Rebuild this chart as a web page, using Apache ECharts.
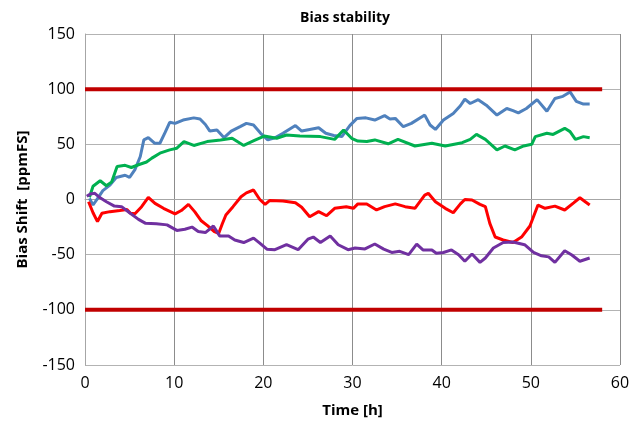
<!DOCTYPE html>
<html>
<head>
<meta charset="utf-8">
<script src="https://cdn.jsdelivr.net/npm/echarts@6/dist/echarts.min.js"></script>
<style>html,body{margin:0;padding:0;background:#fff}#c{width:644px;height:427px}</style>
</head>
<body>
<div id="c"></div>
<script>
var xTicks = [0, 10, 20, 30, 40, 50, 60];
var yTicks = [-150, -100, -50, 0, 50, 100, 150];
var upperLimit = [[0, 100], [58, 100]];
var lowerLimit = [[0, -100], [58, -100]];
var blue = [[0.5,1],[0.9,-5],[1.5,2],[2.0,8],[2.8,13],[3.5,20],[4.5,22],[5.0,20],[5.6,27],[6.2,39],[6.6,54],[7.1,56],[7.8,51],[8.4,51],[9.0,61],[9.5,70],[10.1,69],[11.0,72],[12.2,74],[12.9,73],[13.5,68],[14.0,62],[14.8,63],[15.6,56],[16.4,62],[17.4,66],[18.1,69],[18.9,67.5],[19.7,60],[20.5,54],[21.3,56],[22.2,60],[23.6,67],[24.3,62],[25.2,63.5],[26.2,65],[27.0,60],[27.9,58],[28.8,57],[29.7,67],[30.5,73.5],[31.5,74],[32.5,72],[33.6,76],[34.2,73],[34.8,73.5],[35.7,66],[36.6,69],[38.1,76.5],[38.7,67.5],[39.3,63.5],[40.2,72],[41.3,78],[42.1,85],[42.6,91],[43.2,87],[44.1,90.5],[45.0,85.5],[46.2,76.5],[47.3,82.5],[48.0,80.5],[48.6,78.5],[49.5,82.5],[50.7,90.5],[51.8,80],[52.7,91.5],[53.6,93.5],[54.4,97.5],[55.1,89],[55.9,86.5],[56.6,86.5]];
var green = [[0.5,2],[0.9,12],[1.7,17],[2.4,12.5],[3.0,16],[3.6,30],[4.5,31],[5.2,29],[6.0,31.5],[6.9,34],[7.5,37.5],[8.4,42],[9.5,45],[10.3,46.5],[11.1,52.5],[12.2,49],[13.7,52.5],[15.2,54],[16.5,55.5],[17.8,49],[19.0,53.5],[20.1,57.5],[21.5,55.5],[22.6,58.5],[24.1,57.5],[26.4,57],[28.0,54.5],[29.0,63],[29.9,55.5],[30.6,53],[31.6,52.5],[32.5,54],[34.0,50.5],[35.1,54.5],[37.0,48.5],[38.9,51],[40.4,48.5],[42.3,51.5],[43.2,54.5],[43.9,59],[44.9,54.5],[46.2,45],[47.1,48.5],[48.2,45],[49.2,48.5],[50.1,50],[50.5,57],[51.8,60],[52.5,59],[53.8,64.5],[54.4,61.5],[55.0,54.5],[55.9,57],[56.6,56]];
var red = [[0.4,-2],[0.9,-12],[1.4,-20],[1.9,-12.5],[2.8,-11],[3.9,-10],[4.7,-9],[5.1,-12.5],[5.6,-13],[6.35,-6.5],[7.1,2],[7.85,-3.5],[8.8,-8],[10.1,-13],[10.8,-10],[11.6,-4.4],[12.3,-11],[13.0,-19],[13.7,-23.5],[14.5,-29],[15.0,-30.6],[15.4,-22],[15.8,-14],[16.6,-6.5],[17.5,2.5],[18.1,6],[18.9,8.6],[19.6,0],[20.2,-4.4],[20.7,-1],[22.2,-1.4],[23.6,-3],[24.3,-7],[25.2,-15.6],[26.2,-11],[27.1,-14.7],[28.0,-8],[29.3,-6.5],[30.1,-8],[30.6,-4],[31.6,-4],[32.7,-9.5],[33.6,-6.5],[34.8,-4],[35.9,-6.5],[37.0,-8],[38.1,4],[38.5,5.6],[39.3,-2],[40.4,-8],[41.3,-12],[42.1,-4],[42.6,0],[43.4,-0.5],[44.3,-4.4],[44.9,-6.5],[45.4,-21.6],[46.0,-34],[46.9,-36.7],[48.0,-39],[49.0,-33.7],[49.9,-24],[50.8,-5],[51.6,-8],[52.7,-6],[53.8,-9.5],[54.8,-3],[55.5,1.6],[56.1,-2],[56.6,-5]];
var purple = [[0.2,3],[0.6,5],[1.1,5.6],[1.7,1.5],[2.4,-2],[3.3,-6],[4.1,-6.5],[5.0,-12],[6.0,-18],[6.8,-21.6],[8.0,-22],[9.2,-23],[10.3,-28],[11.2,-27],[12.0,-25],[12.7,-29],[13.5,-30],[14.4,-24],[15.1,-33],[16.1,-33],[16.8,-36.7],[17.8,-39],[18.9,-35],[19.6,-39.5],[20.4,-45],[21.3,-45.5],[22.6,-41],[23.9,-45.5],[25.0,-36],[25.6,-34],[26.4,-39],[27.5,-33],[28.4,-41],[29.5,-45.5],[30.3,-44],[31.4,-44.8],[32.5,-40.3],[33.5,-45],[34.4,-48],[35.3,-47],[36.3,-50],[37.2,-40.5],[37.9,-45.7],[38.9,-45.7],[39.4,-48.7],[40.2,-48],[41.1,-45.7],[41.9,-50],[42.6,-56],[43.4,-49.4],[44.3,-57],[44.9,-53],[45.8,-44],[46.9,-39],[48.0,-38.5],[49.3,-41],[50.3,-48],[51.2,-51],[52.0,-52],[52.7,-57],[53.8,-46.4],[54.6,-50.3],[55.5,-56],[56.6,-53]];

var FONT = 'Open Sans';
function line(name, data, color, width) {
  return { name: name, type: 'line', data: data, showSymbol: false, symbol: 'none',
    lineStyle: { color: color, width: width }, itemStyle: { color: color }, animation: false, z: 3 };
}
var chart = echarts.init(document.getElementById('c'), null, { renderer: 'canvas' });
chart.setOption({
  animation: false,
  backgroundColor: '#fff',
  title: { text: 'Bias stability', left: 340, top: 6, textAlign: 'center',
    textStyle: { fontFamily: FONT, fontSize: 14, fontWeight: 'bold', color: '#000' } },
  grid: { left: 85, right: 24, top: 34, bottom: 62, containLabel: false },
  xAxis: {
    type: 'value', min: xTicks[0], max: xTicks[xTicks.length - 1], interval: 10,
    name: 'Time [h]', nameLocation: 'middle', nameGap: 38,
    nameTextStyle: { fontFamily: FONT, fontSize: 15, fontWeight: 'bold', color: '#000' },
    axisLine: { lineStyle: { color: '#a6a6a6', width: 1 } }, axisTick: { show: false },
    axisLabel: { fontFamily: FONT, fontSize: 16, color: '#000', margin: 10 },
    splitLine: { show: true, lineStyle: { color: '#8c8c8c', width: 1 } }
  },
  yAxis: {
    type: 'value', min: yTicks[0], max: yTicks[yTicks.length - 1], interval: 50,
    name: 'Bias Shift  [ppmFS]', nameLocation: 'middle', nameGap: 55,
    nameTextStyle: { fontFamily: FONT, fontSize: 15, fontWeight: 'bold', color: '#000' },
    axisLine: { show: true, lineStyle: { color: '#a6a6a6', width: 1 } }, axisTick: { show: false },
    axisLabel: { fontFamily: FONT, fontSize: 16, color: '#000', margin: 10 },
    splitLine: { show: true, lineStyle: { color: '#b3b3b3', width: 1 } }
  },
  series: [
    line('blue', blue, '#4F81BD', 3),
    line('green', green, '#00B050', 3),
    line('red', red, '#FF0000', 3),
    line('purple', purple, '#7030A0', 3),
    line('upper', upperLimit, '#C00000', 4),
    line('lower', lowerLimit, '#C00000', 4)
  ]
});
</script>
</body>
</html>
